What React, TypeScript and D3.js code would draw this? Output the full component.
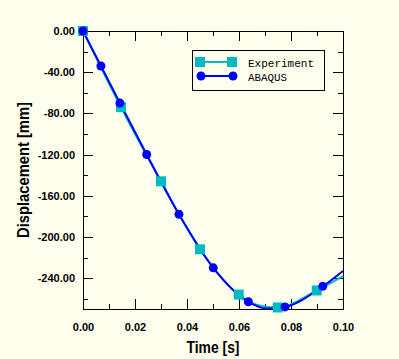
import React, { useEffect, useRef } from 'react';
import * as d3 from 'd3';

// Experiment: curve points, markers where the squares are
const expTime = [0, 0.0146, 0.03, 0.045, 0.0599, 0.067, 0.0749, 0.0899, 0.1];
const expDisp = [0, -74, -146, -212, -256, -266, -268.5, -252, -238];
const expMarkTime = [0, 0.0146, 0.03, 0.045, 0.0599, 0.0749, 0.0899];
const expMarkDisp = [0, -74, -146, -212, -256, -268.5, -252];

// ABAQUS
const abqTime = [0, 0.0069, 0.0142, 0.0245, 0.0369, 0.0501, 0.0636, 0.071, 0.0777, 0.0922, 0.1];
const abqDisp = [0, -34, -70, -120, -178, -230, -263, -269.5, -268, -248, -233];
const abqMarkTime = [0, 0.0069, 0.0142, 0.0245, 0.0369, 0.0501, 0.0636, 0.0777, 0.0922];
const abqMarkDisp = [0, -34, -70, -120, -178, -230, -263, -268, -248];

const timeTicks = [0, 0.02, 0.04, 0.06, 0.08, 0.1];
const timeMinor = [0.01, 0.03, 0.05, 0.07, 0.09];
const dispTicks = [0, -40, -80, -120, -160, -200, -240];
const dispMinor = [-20, -60, -100, -140, -180, -220, -260];

const W = 399;
const H = 359;
const BG = '#FFFFEE';
const CYAN = '#00BBBF';
const BLUE = '#0000FF';

export default function App() {
  const root = useRef<HTMLDivElement>(null);

  useEffect(() => {
    document.body.style.margin = '0';
    const node = root.current;
    if (!node) return;

    const x = d3.scaleLinear().domain([0, 0.1]).range([83, 343]);
    const y = d3.scaleLinear().domain([-270, 0]).range([309, 31]);
    const fmt = (d: any) => d3.format('.2f')(d).replace('\u2212', '-');

    const svg = d3
      .create('svg')
      .attr('width', W)
      .attr('height', H)
      .style('display', 'block');

    svg.append('rect').attr('width', W).attr('height', H).attr('fill', BG);

    svg
      .append('defs')
      .append('clipPath')
      .attr('id', 'plot')
      .append('rect')
      .attr('x', 83)
      .attr('y', 31)
      .attr('width', 260)
      .attr('height', 278);

    const tickFont = (g: any) =>
      g
        .selectAll('text')
        .attr('font-family', 'Liberation Sans, Arial, sans-serif')
        .attr('font-weight', 'bold')
        .attr('font-size', 11)
        .attr('fill', '#000');

    // bottom
    svg
      .append('g')
      .attr('transform', 'translate(0,309)')
      .call(d3.axisBottom(x).tickValues(timeTicks).tickFormat(fmt).tickSize(-10).tickSizeOuter(0).tickPadding(14))
      .call(tickFont);
    svg
      .append('g')
      .attr('transform', 'translate(0,309)')
      .call(d3.axisBottom(x).tickValues(timeMinor).tickFormat(() => '').tickSize(-5).tickSizeOuter(0));
    // top
    svg
      .append('g')
      .attr('transform', 'translate(0,31)')
      .call(d3.axisTop(x).tickValues(timeTicks).tickFormat(() => '').tickSize(-10).tickSizeOuter(0));
    svg
      .append('g')
      .attr('transform', 'translate(0,31)')
      .call(d3.axisTop(x).tickValues(timeMinor).tickFormat(() => '').tickSize(-5).tickSizeOuter(0));
    // left
    svg
      .append('g')
      .attr('transform', 'translate(83,0)')
      .call(d3.axisLeft(y).tickValues(dispTicks).tickFormat(fmt).tickSize(-10).tickSizeOuter(0).tickPadding(8))
      .call(tickFont);
    svg
      .append('g')
      .attr('transform', 'translate(83,0)')
      .call(d3.axisLeft(y).tickValues(dispMinor).tickFormat(() => '').tickSize(-5).tickSizeOuter(0));
    // right
    svg
      .append('g')
      .attr('transform', 'translate(343,0)')
      .call(d3.axisRight(y).tickValues(dispTicks).tickFormat(() => '').tickSize(-10).tickSizeOuter(0));
    svg
      .append('g')
      .attr('transform', 'translate(343,0)')
      .call(d3.axisRight(y).tickValues(dispMinor).tickFormat(() => '').tickSize(-5).tickSizeOuter(0));

    svg.selectAll('.domain').attr('shape-rendering', 'crispEdges');
    svg.selectAll('.tick line').attr('shape-rendering', 'crispEdges');

    svg
      .append('text')
      .attr('x', 213)
      .attr('y', 353)
      .attr('text-anchor', 'middle')
      .attr('font-family', 'Liberation Sans, Arial, sans-serif')
      .attr('font-weight', 'bold')
      .attr('font-size', 17)
      .attr('textLength', 53)
      .attr('lengthAdjust', 'spacingAndGlyphs')
      .text('Time [s]');

    svg
      .append('text')
      .attr('transform', 'translate(29,170) rotate(-90)')
      .attr('text-anchor', 'middle')
      .attr('font-family', 'Liberation Sans, Arial, sans-serif')
      .attr('font-weight', 'bold')
      .attr('font-size', 17)
      .attr('textLength', 136)
      .attr('lengthAdjust', 'spacingAndGlyphs')
      .text('Displacement [mm]');

    const line = d3
      .line<number>()
      .curve(d3.curveMonotoneX);

    const plot = svg.append('g').attr('clip-path', 'url(#plot)');

    plot
      .append('path')
      .attr('fill', 'none')
      .attr('stroke', CYAN)
      .attr('stroke-width', 2)
      .attr('d', line.x((_, i) => x(expTime[i])).y(d => y(d))(expDisp));

    svg
      .append('g')
      .selectAll('rect')
      .data(expMarkDisp)
      .join('rect')
      .attr('x', (_, i) => x(expMarkTime[i]) - 5)
      .attr('y', d => y(d) - 5)
      .attr('width', 10)
      .attr('height', 10)
      .attr('fill', CYAN);

    plot
      .append('path')
      .attr('fill', 'none')
      .attr('stroke', BLUE)
      .attr('stroke-width', 2)
      .attr('d', line.x((_, i) => x(abqTime[i])).y(d => y(d))(abqDisp));

    svg
      .append('g')
      .selectAll('circle')
      .data(abqMarkDisp)
      .join('circle')
      .attr('cx', (_, i) => x(abqMarkTime[i]))
      .attr('cy', d => y(d))
      .attr('r', 4.5)
      .attr('fill', BLUE);

    // legend
    const lg = svg.append('g');
    lg.append('rect')
      .attr('x', 192.5)
      .attr('y', 50.5)
      .attr('width', 132)
      .attr('height', 40)
      .attr('fill', BG)
      .attr('stroke', '#000')
      .attr('stroke-width', 1);
    lg.append('line').attr('x1', 200).attr('x2', 232).attr('y1', 62).attr('y2', 62).attr('stroke', CYAN).attr('stroke-width', 2);
    [200, 232].forEach(cx =>
      lg.append('rect').attr('x', cx - 5).attr('y', 57).attr('width', 10).attr('height', 10).attr('fill', CYAN)
    );
    lg.append('line').attr('x1', 201).attr('x2', 233).attr('y1', 76).attr('y2', 76).attr('stroke', BLUE).attr('stroke-width', 2);
    [201, 233].forEach(cx => lg.append('circle').attr('cx', cx).attr('cy', 76).attr('r', 4.5).attr('fill', BLUE));

    const legendText = (label: string, yy: number, len: number) =>
      lg
        .append('text')
        .attr('x', 248)
        .attr('y', yy)
        .attr('font-family', 'Courier New, Liberation Mono, monospace')
        .attr('font-size', 11)
        .attr('textLength', len)
        .attr('lengthAdjust', 'spacingAndGlyphs')
        .text(label);
    legendText('Experiment', 66.5, 66);
    legendText('ABAQUS', 80.5, 39);

    node.appendChild(svg.node() as Node);
    return () => {
      while (node.firstChild) node.removeChild(node.firstChild);
    };
  }, []);

  return <div ref={root} />;
}
